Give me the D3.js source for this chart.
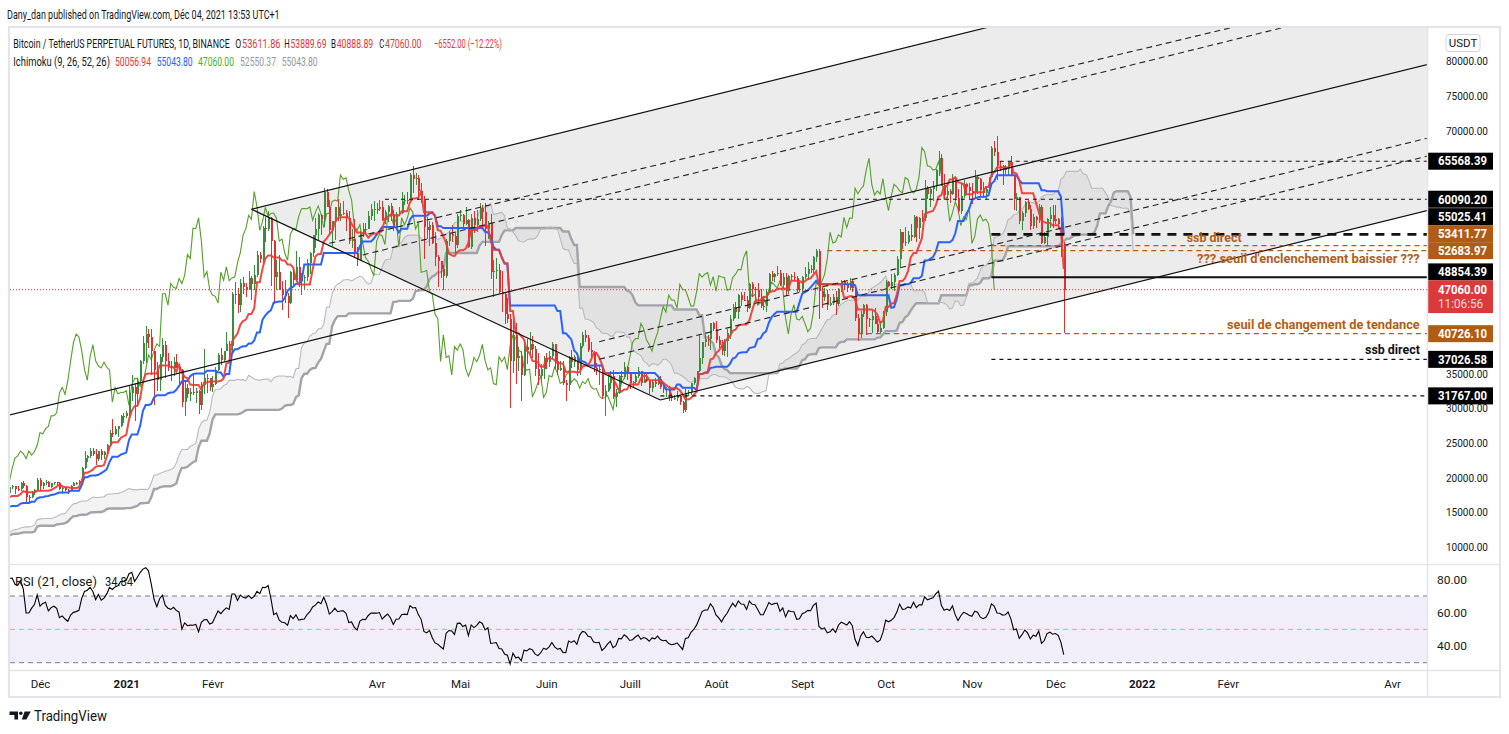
<!DOCTYPE html>
<html>
<head>
<meta charset="utf-8">
<title>BTCUSDT PERP 1D - Ichimoku</title>
<script src="https://cdn.jsdelivr.net/npm/d3@7"></script>
<style>
  body { margin: 0; background: #fff; }
  svg { display: block; font-family: Roboto, "Liberation Sans", sans-serif; }
</style>
</head>
<body>
<div id="chart"></div>
<script>
/*
Daily candles, BTCUSDT perpetual (Binance), one value per day from startDate.
Prices in thousands of USDT. Sept-Nov 2020 only warms up Ichimoku and RSI.
*/
const startDate = "2020-09-01";
const firstOpen = 11.65;

const closes = [
  // 2020-09
  11.92,11.39,10.17,10.47,10.17,10.25,10.37,10.13,10.22,10.34,10.39,10.44,10.33,10.68,10.79,10.95,10.94,10.93,11.08,10.92,10.42,10.53,10.24,10.74,10.69,10.73,10.78,10.70,10.84,10.78,
  // 2020-10
  10.62,10.57,10.55,10.67,10.79,10.60,10.67,10.92,11.06,11.30,11.38,11.54,11.43,11.43,11.50,11.33,11.37,11.51,11.75,11.92,12.82,12.97,12.93,13.12,13.03,13.07,13.65,13.28,13.46,13.56,13.80,
  // 2020-11
  13.76,13.55,14.03,14.16,15.59,15.59,14.83,15.48,15.33,15.31,15.70,16.28,16.32,16.07,15.96,16.72,17.66,17.80,17.82,18.68,18.72,18.42,18.37,19.16,18.72,17.15,17.14,17.72,18.18,19.70,
  // 2020-12
  18.77,19.22,19.42,18.65,19.15,19.36,19.17,18.32,18.55,18.25,18.03,18.80,19.17,19.27,19.44,21.35,22.80,23.11,23.82,23.46,22.72,23.82,23.25,23.71,24.69,26.49,26.28,27.04,27.36,28.89,28.92,
  // 2021-01
  29.33,32.18,33.00,31.99,33.95,36.77,39.39,40.67,40.24,38.24,35.54,34.01,37.37,39.15,36.82,36.07,35.80,36.63,35.89,35.47,30.85,32.95,32.08,32.26,32.25,32.51,30.40,33.40,34.27,34.32,33.11,
  // 2021-02
  33.52,35.51,37.67,36.98,38.29,39.26,38.90,46.45,46.51,44.84,47.97,47.41,47.23,48.69,47.94,49.13,52.12,51.55,55.91,55.84,57.41,54.09,48.89,49.68,47.06,46.28,46.10,45.14,
  // 2021-03
  49.59,48.44,50.35,48.37,48.75,48.88,50.97,52.38,54.88,55.86,57.77,57.22,61.19,59.00,55.60,56.90,58.91,57.65,58.03,58.10,57.35,54.08,54.34,52.30,51.30,55.05,55.85,55.78,57.63,58.73,58.74,
  // 2021-04
  58.72,58.98,57.07,58.20,59.13,57.99,56.00,57.97,58.09,59.77,59.96,59.84,63.58,62.96,63.16,61.33,60.01,56.15,55.63,56.43,53.79,51.70,51.15,50.05,49.06,54.02,55.03,54.83,53.56,57.70,
  // 2021-05
  57.80,56.58,57.17,53.20,57.44,56.39,57.31,58.84,58.24,55.82,56.67,49.58,49.69,49.84,46.76,46.43,43.54,42.88,36.73,40.57,37.29,37.53,34.77,38.85,38.35,39.24,38.48,35.68,34.61,35.67,37.29,
  // 2021-06
  36.69,37.57,39.19,36.84,35.52,35.80,33.55,33.38,37.39,36.69,37.34,35.55,39.02,40.52,40.15,38.35,38.09,35.82,35.48,35.60,31.68,32.51,33.68,34.66,31.57,32.25,34.69,34.49,35.91,35.04,
  // 2021-07
  33.57,33.80,34.67,35.29,33.69,34.22,33.86,32.88,33.82,33.52,34.26,33.09,32.73,32.82,31.78,31.39,31.53,31.80,30.84,29.79,32.14,32.29,33.58,34.29,35.38,37.27,39.46,40.03,40.02,42.21,41.46,
  // 2021-08
  39.85,39.15,38.21,39.74,40.87,42.83,44.61,43.83,46.29,45.59,45.55,44.43,47.83,47.09,47.02,45.94,44.69,44.72,46.76,49.34,48.87,49.29,49.51,47.70,48.95,46.84,49.07,48.90,48.81,46.99,47.13,
  // 2021-09
  48.83,49.25,49.99,49.92,51.76,52.66,46.86,46.06,46.40,44.85,45.17,46.03,44.96,47.11,48.13,47.75,47.30,48.31,47.26,42.99,40.70,43.56,44.89,42.84,42.70,43.21,42.17,41.03,41.52,43.82,
  // 2021-10
  48.14,47.64,48.20,49.23,51.49,55.34,53.80,53.97,54.96,54.66,57.47,56.01,57.37,57.35,61.67,60.88,61.53,62.01,64.28,66.00,62.21,60.69,61.29,60.85,63.08,60.33,58.45,60.59,62.25,61.88,61.30,
  // 2021-11
  61.00,63.23,62.94,61.45,61.00,61.53,63.30,67.54,66.94,64.88,64.81,64.28,64.41,65.50,63.62,60.11,60.37,56.90,58.12,59.73,58.69,56.28,57.57,57.16,58.96,53.73,54.72,57.27,57.81,56.97,
  // 2021-12
  57.23,56.51,53.61186,47.06
];

const highs = [
  12.1,12.1,11.5,10.6,10.6,10.4,10.4,10.4,10.4,10.5,10.4,10.5,10.5,10.8,10.9,11.1,11.1,11.0,11.2,11.1,11.0,10.6,10.6,10.8,10.8,10.8,10.8,11.0,10.9,10.9,
  10.9,10.7,10.6,10.7,10.8,10.8,10.7,10.9,11.1,11.5,11.4,11.7,11.6,11.5,11.6,11.5,11.4,11.5,11.8,12.0,13.2,13.2,13.0,13.2,13.4,13.2,13.8,13.9,13.6,13.7,14.1,
  13.9,13.8,14.1,14.3,15.8,16.0,15.8,15.7,15.8,15.5,15.9,16.4,16.5,16.3,16.2,16.9,17.8,18.5,18.1,18.8,18.9,18.8,18.8,19.4,19.5,19.0,17.5,18.0,18.3,19.9,
  19.9,19.3,19.6,19.5,19.2,19.4,19.4,19.3,18.6,18.6,18.3,18.9,19.4,19.4,19.6,21.5,23.8,23.3,24.2,24.3,24.1,23.8,24.1,23.8,24.8,26.9,28.4,27.5,27.4,29.0,29.3,
  29.6,33.3,34.8,33.6,34.4,36.9,40.4,41.9,41.4,41.4,38.3,36.6,37.8,40.1,39.7,37.9,36.8,37.3,37.8,36.4,35.6,33.8,33.5,32.9,34.9,32.9,32.6,33.8,38.5,34.9,34.3,
  34.7,35.9,37.9,38.7,38.3,40.9,39.7,46.8,48.1,47.3,48.6,48.9,48.0,49.7,49.0,50.6,52.6,52.5,56.3,57.5,58.4,57.5,54.2,51.4,52.0,48.3,48.4,46.6,
  49.8,50.2,52.6,51.8,49.5,49.2,51.5,52.5,54.9,57.4,58.1,58.0,61.7,61.6,60.0,56.9,59.0,60.1,59.5,59.9,58.6,58.4,55.8,57.2,53.2,55.5,56.6,56.6,58.4,59.4,59.8,
  59.5,60.0,59.8,58.5,59.3,59.5,58.6,58.2,58.9,61.2,60.7,61.2,63.8,64.9,63.8,63.6,62.5,60.5,57.5,57.0,56.8,55.4,52.1,51.2,50.6,54.4,55.5,56.4,55.2,58.0,
  58.5,57.9,58.9,57.2,58.0,58.4,58.6,59.5,59.3,59.6,57.0,58.0,51.3,51.6,50.7,49.8,46.6,45.8,43.6,42.5,42.2,38.8,38.3,39.8,39.9,40.9,40.4,38.9,37.9,36.4,37.5,
  37.9,38.2,39.5,39.3,37.9,36.8,36.8,34.1,37.5,38.4,37.7,37.4,39.4,41.0,41.3,40.5,39.5,38.2,36.5,36.0,35.8,33.3,34.9,35.3,35.5,32.7,34.8,35.3,36.6,36.0,
  35.1,33.9,34.9,35.9,35.3,35.1,35.0,33.9,34.1,34.3,34.6,34.6,33.3,33.1,33.2,32.2,31.9,32.4,31.9,31.0,32.8,32.6,33.6,34.5,35.4,40.5,39.5,40.9,40.6,42.3,42.4,
  42.6,40.4,39.8,39.9,41.4,43.4,45.0,45.3,46.5,46.7,46.8,46.2,48.0,48.2,47.4,48.0,47.2,46.0,47.1,49.4,49.8,49.5,50.5,49.9,49.4,49.4,49.2,49.3,49.6,49.0,48.2,
  49.0,50.4,51.0,50.6,51.9,52.9,52.9,47.4,47.3,47.0,46.0,46.4,46.9,47.3,48.5,48.5,48.2,48.8,48.4,47.3,43.6,44.0,45.0,45.0,43.0,44.0,44.4,42.8,42.6,44.0,
  48.5,48.3,49.3,49.5,51.9,55.8,55.3,56.1,55.5,56.5,57.8,57.7,57.6,58.5,62.9,62.0,61.7,62.7,64.5,67.0,66.6,63.7,61.8,61.5,63.7,63.3,61.5,62.5,62.9,62.4,62.4,
  62.4,64.3,63.5,63.1,62.6,61.8,63.3,67.8,68.5,69.1987,65.6,65.0,65.0,65.5,66.3,63.6,61.0,60.1,58.4,59.8,60.0,59.2,57.9,57.7,59.4,59.2,55.3,57.4,58.9,59.2,
  59.2,57.4,57.6,53.88969
];

const lows = [
  11.5,11.2,10.0,10.0,9.9,10.0,10.0,9.9,10.1,10.2,10.2,10.4,10.2,10.3,10.6,10.7,10.8,10.8,10.9,10.8,10.4,10.3,10.1,10.2,10.6,10.7,10.7,10.7,10.6,10.7,
  10.5,10.4,10.5,10.5,10.6,10.5,10.6,10.6,10.8,11.1,11.3,11.2,11.3,11.3,11.2,11.2,11.3,11.3,11.4,11.7,11.9,12.7,12.7,12.8,12.9,12.8,13.0,12.9,13.0,13.1,13.5,
  13.5,13.2,13.5,13.5,14.1,15.2,14.4,14.7,14.8,15.1,15.2,15.5,15.9,15.8,15.8,15.8,16.6,17.2,17.3,17.7,18.3,17.7,18.0,18.0,18.5,16.3,16.5,17.0,17.5,18.2,
  18.1,18.3,18.9,18.6,18.5,18.9,18.9,18.2,17.6,18.0,17.6,18.0,18.8,19.0,19.0,19.3,21.2,22.3,22.8,23.1,21.8,22.4,22.6,22.7,23.4,24.5,25.8,26.1,25.9,27.3,27.9,
  28.6,28.9,31.1,28.1,30.4,33.4,36.3,36.5,38.7,34.8,30.4,32.5,32.4,36.7,34.4,35.4,33.9,34.7,35.8,33.4,30.1,28.9,31.4,31.0,31.9,30.8,29.2,29.8,32.0,32.2,32.4,
  32.3,33.4,35.4,36.2,36.6,38.2,37.4,38.1,45.0,43.7,43.9,46.4,46.0,47.0,45.6,47.0,48.9,50.9,50.8,54.0,55.5,47.6,45.0,47.0,47.0,44.1,45.1,43.0,
  45.0,47.8,48.1,47.5,46.3,47.1,48.3,49.3,51.8,53.0,54.2,55.0,56.1,59.0,55.0,53.3,54.2,56.9,57.0,57.8,55.5,53.7,53.0,51.7,50.5,51.2,54.6,55.0,55.8,57.1,57.0,
  57.9,58.4,57.0,56.5,56.8,57.0,55.5,55.7,57.7,58.0,59.2,59.4,59.8,61.0,62.1,60.0,59.6,51.5,54.3,53.4,53.6,50.5,47.5,48.8,47.0,48.8,53.3,53.9,52.4,53.1,
  56.9,56.0,56.4,53.0,52.9,55.2,55.4,56.9,56.2,53.4,54.4,48.6,46.0,48.6,46.6,43.8,42.1,42.2,30.0,35.0,33.5,35.3,31.0,34.6,36.4,37.7,37.2,34.7,33.4,33.6,34.2,
  35.7,35.9,37.2,35.6,34.8,35.3,33.3,31.0,32.4,35.8,35.9,34.6,34.8,38.7,39.5,38.1,37.4,35.2,34.8,33.3,31.3,28.8,32.3,32.7,31.3,30.2,32.0,33.8,34.2,34.0,
  32.7,33.0,33.4,34.4,33.2,33.6,33.7,32.1,32.3,33.0,33.3,32.7,32.2,31.6,31.1,31.1,31.2,31.1,30.5,29.3,29.5,31.7,31.9,33.3,33.9,35.2,36.4,38.8,38.9,38.4,41.1,
  39.4,38.7,37.6,37.5,37.3,39.9,42.5,43.0,42.9,44.7,45.4,43.8,44.3,46.0,45.5,45.0,44.4,44.2,43.9,46.6,48.3,48.1,49.0,47.6,47.2,46.2,46.4,48.4,48.3,46.8,46.7,
  46.5,48.6,48.4,49.4,49.5,51.0,42.8,44.4,45.5,44.2,44.7,44.8,43.4,44.7,46.7,47.0,46.7,47.0,46.8,42.5,39.6,40.1,43.1,40.6,41.7,40.8,42.1,40.8,40.8,41.4,
  43.3,47.4,47.1,46.9,49.0,50.4,52.9,53.4,53.7,54.1,54.5,53.9,54.4,56.8,56.9,60.1,58.9,59.9,61.3,63.5,62.0,60.0,60.3,59.5,60.7,59.8,58.1,57.9,60.2,60.7,60.1,
  59.4,60.1,60.8,60.6,60.2,60.1,61.4,63.3,66.3,62.8,64.1,62.2,63.7,63.6,63.4,58.6,58.4,56.5,55.6,57.5,58.5,55.6,55.8,55.9,56.7,53.6,53.6,53.3,55.9,55.9,
  56.5,55.8,51.7,40.88889
];

// Legend values as shown in the header
const legendOHLC = [53611.86, 53889.69, 40888.89, 47060.00];
const legendChange = [-6552.00, -12.22];
const ichimokuLegend = [50056.94, 55043.80, 47060.00, 52550.37, 55043.80];
const rsiLegend = 34.84;
const countdown = "11:06:56";

// Axes
const timeTicks = ["2020-12-01", "2021-01-01", "2021-02-01", "2021-04-01", "2021-05-01", "2021-06-01", "2021-07-01",
  "2021-08-01", "2021-09-01", "2021-10-01", "2021-11-01", "2021-12-01", "2022-01-01", "2022-02-01", "2022-04-01"];
const timeLabels = ["Déc", "2021", "Févr", "Avr", "Mai", "Juin", "Juill", "Août", "Sept", "Oct", "Nov", "Déc", "2022", "Févr", "Avr"];
const priceTicks = [10000, 15000, 20000, 25000, 30000, 35000, 40000, 45000, 50000, 55000, 60000, 65000, 70000, 75000, 80000];
const rsiTicks = [40, 60, 80];

// Drawings: pitchfork anchors (handle, upper, lower) as [date, price]
const pitchfork = [["2020-11-20", 29010], ["2021-02-15", 58640], ["2021-07-12", 31170]];
// Dashed trend rays: [date1, price1, date2, price2]
const trendRays = [
  ["2021-03-15", 53740, "2021-11-08", 76540],
  ["2021-03-27", 52060, "2021-11-05", 74140],
  ["2021-06-20", 39570, "2022-04-11", 68620],
  ["2021-06-20", 37030, "2022-04-11", 66030]
];
// Horizontal rays
const levelPrices = [65568.39, 60090.20, 55025.41, 53411.77, 52683.97, 48854.39, 40726.10, 37026.58, 31767.00];
const levelStarts = ["2021-11-11", "2021-04-04", "2021-11-08", "2021-11-08", "2021-09-10", "2021-11-08", "2021-09-21", "2021-11-08", "2021-07-12"];
const levelKinds = ["dash", "dash", "ssb", "orange", "orange", "solid", "orange", "dash", "dash"];
const levelTexts = ["", "", "ssb direct", "", "??? seuil d'enclenchement baissier ???", "", "seuil de changement de tendance", "ssb direct", ""];


/*
Geometry and scales.
*/
const W = 1509, H = 734;
const pane = { left: 10, right: 1427, top: 28, bottom: 563 };
const rsiPane = { top: 565, bottom: 669 };
const DAY = 864e5;
const D = s => new Date(s + "T00:00:00Z");
const fmt = d3.format(".2f");
const INK = "#131722";
const ORANGE = "#b35e14";

const x = d3.scaleUtc().domain([D("2020-12-01"), D("2022-04-01")]).range([40, 1392]);
const y = d3.scaleLinear().domain([10000, 80000]).range([547, 61]);
const yr = d3.scaleLinear().domain([30, 70]).range([662.7, 596]);

const t0 = D(startDate).getTime();
const dateAt = i => new Date(t0 + i * DAY);

const bars = closes.map((c, i) => {
  const o = (i ? closes[i - 1] : firstOpen) * 1000;
  const cl = c * 1000;
  return {
    date: dateAt(i), o, c: cl,
    h: Math.max(highs[i] * 1000, o, cl),
    l: Math.min(lows[i] * 1000, o, cl)
  };
});


/*
Ichimoku (9, 26, 52, 26) and RSI (21).
*/
function donchian(len) {
  return bars.map((b, i) => {
    if (i < len - 1) return null;
    const win = bars.slice(i - len + 1, i + 1);
    return (d3.max(win, d => d.h) + d3.min(win, d => d.l)) / 2;
  });
}
const tenkan = donchian(9);
const kijun = donchian(26);
const spanB = donchian(52);
const spanA = tenkan.map((t, i) => (t != null && kijun[i] != null) ? (t + kijun[i]) / 2 : null);
const shift = 25;

function rsi(values, len) {
  const out = values.map(() => null);
  let up = 0, dn = 0;
  for (let i = 1; i < values.length; i++) {
    const ch = values[i] - values[i - 1];
    const u = Math.max(ch, 0), d = Math.max(-ch, 0);
    if (i <= len) {
      up += u / len; dn += d / len;
      if (i < len) continue;
    } else {
      up = (up * (len - 1) + u) / len;
      dn = (dn * (len - 1) + d) / len;
    }
    out[i] = dn === 0 ? 100 : 100 - 100 / (1 + up / dn);
  }
  return out;
}
const rsiValues = rsi(bars.map(b => b.c), 21);


/*
Container.
*/
const svg = d3.select("#chart").append("svg")
  .attr("width", W)
  .attr("height", H);

svg.append("rect").attr("width", W).attr("height", H).attr("fill", "#fff");

const defs = svg.append("defs");
defs.append("clipPath").attr("id", "clip-main").append("rect")
  .attr("x", pane.left).attr("y", pane.top)
  .attr("width", pane.right - pane.left).attr("height", pane.bottom - pane.top);
defs.append("clipPath").attr("id", "clip-rsi").append("rect")
  .attr("x", pane.left).attr("y", rsiPane.top)
  .attr("width", pane.right - pane.left).attr("height", rsiPane.bottom - rsiPane.top);

const main = svg.append("g").attr("clip-path", "url(#clip-main)");
const line = d3.line().defined(d => d.v != null).x(d => x(d.date)).y(d => y(d.v));

// Text squeezed horizontally into a given width (the original font is narrow).
function fit(g, x0, y0, s, len, color) {
  const t = g.append("text").attr("fill", color || INK).text(s);
  const w = t.node().getComputedTextLength() || len;
  t.attr("transform", `translate(${x0},${y0}) scale(${len / w},1)`);
  return t;
}


/*
Pitchfork fill (below everything else).
*/
const [pA, pB, pC] = pitchfork.map(([d, p]) => ({ t: D(d).getTime(), p }));
const pM = { t: (pB.t + pC.t) / 2, p: (pB.p + pC.p) / 2 };
const forkSlope = (pM.p - pA.p) / (pM.t - pA.t);
const tFar = D("2022-08-01").getTime();
const extend = (pt, s) => ({ t: tFar, p: pt.p + s * (tFar - pt.t) });
const P = pt => [x(new Date(pt.t)), y(pt.p)];

main.append("path")
  .attr("d", d3.line()([P(pB), P(extend(pB, forkSlope)), P(extend(pC, forkSlope)), P(pC)]) + "Z")
  .attr("fill", "#ececec");


/*
Ichimoku cloud and lines.
*/
const lead = bars.map((b, i) => ({ date: dateAt(i + shift), a: spanA[i], b: spanB[i] }))
  .filter(d => d.a != null && d.b != null);

main.append("path").datum(lead)
  .attr("d", d3.area().x(d => x(d.date)).y0(d => y(d.b)).y1(d => y(d.a)))
  .attr("fill", "rgba(120,123,134,0.09)");

main.append("path").datum(lead.map(d => ({ date: d.date, v: d.b })))
  .attr("d", line).attr("fill", "none").attr("stroke", "#a3a4aa").attr("stroke-width", 2.4);

main.append("path").datum(lead.map(d => ({ date: d.date, v: d.a })))
  .attr("d", line).attr("fill", "none").attr("stroke", "#b9babf").attr("stroke-width", 1.1);

main.append("path").datum(bars.map((b, i) => ({ date: dateAt(i - shift), v: b.c })))
  .attr("d", line).attr("fill", "none").attr("stroke", "#55a02a").attr("stroke-width", 1.1);


/*
Candles.
*/
const candles = main.append("g").attr("shape-rendering", "crispEdges");
const col = d => d.c >= d.o ? "#388e3c" : "#e0302f";

candles.selectAll("line").data(bars).join("line")
  .attr("x1", d => Math.round(x(d.date)) + 0.5)
  .attr("x2", d => Math.round(x(d.date)) + 0.5)
  .attr("y1", d => y(d.h))
  .attr("y2", d => y(d.l))
  .attr("stroke", col);

candles.selectAll("rect").data(bars).join("rect")
  .attr("x", d => Math.round(x(d.date)))
  .attr("width", 2)
  .attr("y", d => y(Math.max(d.o, d.c)))
  .attr("height", d => Math.max(1, Math.abs(y(d.o) - y(d.c))))
  .attr("fill", col);

main.append("path").datum(bars.map((b, i) => ({ date: b.date, v: kijun[i] })))
  .attr("d", line).attr("fill", "none").attr("stroke", "#2962ff").attr("stroke-width", 2);

main.append("path").datum(bars.map((b, i) => ({ date: b.date, v: tenkan[i] })))
  .attr("d", line).attr("fill", "none").attr("stroke", "rgba(240,56,50,0.92)").attr("stroke-width", 2);


/*
Drawings: pitchfork lines, dashed rays, horizontal levels.
*/
const draw = main.append("g").attr("fill", "none");
const seg = (a, b) => d3.line()([P(a), P(b)]);

draw.append("path").attr("d", seg(pA, extend(pA, forkSlope))).attr("stroke", "#111").attr("stroke-width", 1.2);
draw.append("path").attr("d", seg(pB, extend(pB, forkSlope))).attr("stroke", "#111").attr("stroke-width", 1.2);
draw.append("path").attr("d", seg(pC, extend(pC, forkSlope))).attr("stroke", "#111").attr("stroke-width", 1.2);
draw.append("path").attr("d", seg(pB, pC)).attr("stroke", "#111").attr("stroke-width", 1.2);

trendRays.forEach(([d1, p1, d2, p2]) => {
  const a = { t: D(d1).getTime(), p: p1 };
  const b = { t: D(d2).getTime(), p: p2 };
  const s = (b.p - a.p) / (b.t - a.t);
  draw.append("path").attr("d", seg(a, extend(a, s)))
    .attr("stroke", "#222").attr("stroke-width", 1.1).attr("stroke-dasharray", "6,4");
});

const levelStyle = {
  dash:   { stroke: "#111", width: 1.1, dash: "4,4" },
  ssb:    { stroke: "#111", width: 2.6, dash: "9,7" },
  orange: { stroke: ORANGE, width: 1.2, dash: "5,4" },
  solid:  { stroke: "#111", width: 2.2, dash: null }
};

levelPrices.forEach((p, i) => {
  const st = levelStyle[levelKinds[i]];
  const yy = y(p);
  draw.append("line")
    .attr("x1", x(D(levelStarts[i]))).attr("x2", pane.right)
    .attr("y1", yy).attr("y2", yy)
    .attr("stroke", st.stroke).attr("stroke-width", st.width)
    .attr("stroke-dasharray", st.dash);
});

// current price line
const last = bars[bars.length - 1];
main.append("line")
  .attr("x1", pane.left).attr("x2", pane.right)
  .attr("y1", y(last.c)).attr("y2", y(last.c))
  .attr("stroke", "#d32f2f").attr("stroke-width", 1).attr("stroke-dasharray", "1,2");

// level notes: placement and width of each
const textPlacement = { 2: ["center", 55], 4: ["below", 223], 6: ["above", 193], 7: ["above", 55] };
const notes = main.append("g").attr("font-size", 12.5).attr("font-weight", "bold");
levelTexts.forEach((s, i) => {
  if (!s) return;
  const yy = y(levelPrices[i]);
  const [pos, len] = textPlacement[i];
  const colr = levelKinds[i] === "dash" ? "#111" : ORANGE;
  if (pos === "center") {
    fit(notes, (x(D(levelStarts[i])) + pane.right) / 2 + 5 - len / 2, yy + 7.5, s, len, colr);
  } else {
    fit(notes, pane.right - 7 - len, pos === "below" ? yy + 12.5 : yy - 5, s, len, colr);
  }
});


/*
RSI pane.
*/
const rsiG = svg.append("g").attr("clip-path", "url(#clip-rsi)");
rsiG.append("rect")
  .attr("x", pane.left).attr("width", pane.right - pane.left)
  .attr("y", yr(70)).attr("height", yr(30) - yr(70))
  .attr("fill", "rgba(126,87,194,0.1)");

[[70, "#787b86"], [50, "#e4a0a2"], [30, "#787b86"]].forEach(([v, c]) => {
  rsiG.append("line")
    .attr("x1", pane.left).attr("x2", pane.right)
    .attr("y1", yr(v)).attr("y2", yr(v))
    .attr("stroke", c).attr("stroke-dasharray", "5,4");
});

rsiG.append("path")
  .datum(bars.map((b, i) => ({ date: b.date, v: rsiValues[i] })))
  .attr("d", d3.line().defined(d => d.v != null).x(d => x(d.date)).y(d => yr(d.v)))
  .attr("fill", "none").attr("stroke", "#000").attr("stroke-width", 1.1);

const rsiText = svg.append("g").attr("font-size", 12.5);
fit(rsiText, 15, 585.5, "RSI (21, close)", 82);
fit(rsiText, 105, 585.5, fmt(rsiLegend), 28);


/*
Price labels on the axis, stacked around the live price label.
*/
const boxH = 17;
const liveY = y(last.c);
const live = { top: liveY - 9.3, bottom: liveY + 23.4 };
const labels = levelPrices.map((p, i) => ({
  text: fmt(p), ideal: y(p),
  fill: levelKinds[i] === "orange" ? "#b05c14" : "#000"
}));
let edge = live.top;
labels.filter(l => l.ideal < liveY).sort((a, b) => b.ideal - a.ideal).forEach(l => {
  l.cy = Math.min(l.ideal, edge - boxH / 2);
  edge = l.cy - boxH / 2;
});
edge = live.bottom;
labels.filter(l => l.ideal >= liveY).sort((a, b) => a.ideal - b.ideal).forEach(l => {
  l.cy = Math.max(l.ideal, edge + boxH / 2);
  edge = l.cy + boxH / 2;
});
const boxes = labels.map(l => [l.cy - boxH / 2, l.cy + boxH / 2]).concat([[live.top, live.bottom]]);
const hidden = v => boxes.some(([a, b]) => y(v) > a - 3 && y(v) < b + 3);


/*
Axes.
*/
function styleAxis(g) {
  g.attr("font-family", null).attr("font-size", null);
  g.select(".domain").remove();
  g.selectAll("text").attr("fill", INK).attr("font-size", 11.5);
}

svg.append("g")
  .attr("transform", "translate(1443,0)")
  .call(d3.axisRight(y).tickValues(priceTicks.filter(v => !hidden(v))).tickFormat(fmt).tickSize(0).tickPadding(3))
  .call(styleAxis)
  .call(g => g.selectAll("text").attr("textLength", 42).attr("lengthAdjust", "spacingAndGlyphs"));

svg.append("g")
  .attr("transform", "translate(1434,0)")
  .call(d3.axisRight(yr).tickValues(rsiTicks).tickFormat(fmt).tickSize(0).tickPadding(3))
  .call(styleAxis)
  .call(g => g.selectAll("text").attr("textLength", 30).attr("lengthAdjust", "spacingAndGlyphs"));

svg.append("g")
  .attr("transform", "translate(0,680)")
  .call(d3.axisBottom(x).tickValues(timeTicks.map(D)).tickFormat((d, i) => timeLabels[i]).tickSize(0).tickPadding(0))
  .call(styleAxis)
  .call(g => g.selectAll("text").attr("font-weight", (d, i) => /^\d{4}$/.test(timeLabels[i]) ? "bold" : null));

const lab = svg.append("g").attr("font-size", 12).attr("font-weight", "bold");
labels.forEach(l => {
  lab.append("rect").attr("x", 1428).attr("width", 65)
    .attr("y", l.cy - boxH / 2).attr("height", boxH).attr("fill", l.fill);
  fit(lab, 1438, l.cy + 4.3, l.text, 49, "#fff");
});
lab.append("rect").attr("x", 1428).attr("width", 65)
  .attr("y", live.top).attr("height", live.bottom - live.top).attr("fill", "#db3a3a");
fit(lab, 1438, liveY + 4.3, fmt(last.c), 49, "#fff");
fit(lab, 1438, liveY + 18.3, countdown, 47, "rgba(255,255,255,0.82)").attr("font-weight", "normal");

// currency badge
svg.append("rect").attr("x", 1446).attr("y", 34.5).attr("width", 34).attr("height", 17).attr("rx", 3)
  .attr("fill", "#fff").attr("stroke", "#d1d4dc");
svg.append("text").attr("x", 1463).attr("y", 47).attr("text-anchor", "middle")
  .attr("font-size", 11.5).attr("fill", INK).text("USDT");


/*
Frame and pane separators.
*/
const frame = svg.append("g").attr("stroke", "#e3e5eb").attr("fill", "none");
frame.append("line").attr("x1", 9).attr("x2", 1500).attr("y1", 564.5).attr("y2", 564.5).attr("stroke-width", 1.5);
frame.append("line").attr("x1", 9).attr("x2", 1500).attr("y1", 670.5).attr("y2", 670.5).attr("stroke-width", 1.5);
frame.append("line").attr("x1", 1427.5).attr("x2", 1427.5).attr("y1", 27).attr("y2", 697).attr("stroke-width", 1.5);
frame.append("rect").attr("x", 9).attr("y", 27).attr("width", 1491).attr("height", 670).attr("stroke-width", 2.2);


/*
Header, legends, logo.
*/
const head = svg.append("g").attr("font-size", 13);
fit(head, 7, 19, "Dany_dan published on TradingView.com, Déc 04, 2021 13:53 UTC+1", 273);
fit(head, 13.3, 48, "Bitcoin / TetherUS PERPETUAL FUTURES, 1D, BINANCE", 216.7);

const RED = "#e53935";
// [key, key x, key width, value x, value width]
[["O", 235.3, 6, 242, 38.5], ["H", 284.3, 5.5, 290.5, 36], ["B", 331, 5, 336.7, 36.5], ["C", 379.3, 5, 385, 36.5]]
  .forEach(([k, kx, kw, vx, vw], i) => {
    fit(head, kx, 48, k, kw);
    fit(head, vx, 48, fmt(legendOHLC[i]), vw, RED);
  });
fit(head, 434, 48, `\u2212${fmt(-legendChange[0])} (\u2212${fmt(-legendChange[1])}%)`, 68, RED);

fit(head, 13.3, 65.7, "Ichimoku (9, 26, 52, 26)", 96.7);
const ichiColors = [RED, "#2962ff", "#4caf28", "#9598a1", "#9598a1"];
[115, 156.7, 198, 240, 281.7].forEach((x0, i) => fit(head, x0, 65.7, fmt(ichimokuLegend[i]), 36, ichiColors[i]));

const logo = svg.append("g").attr("fill", INK);
logo.append("path").attr("d", "M9.5,711.5 h8.5 v8 h-3.6 v-4.4 h-4.9 z");
logo.append("circle").attr("cx", 20.8).attr("cy", 713.3).attr("r", 1.8);
logo.append("path").attr("d", "M24.6,711.5 h6.2 l-4.4,8 h-4.6 z");
fit(svg.append("g").attr("font-size", 14), 34, 721, "TradingView", 73);
</script>
</body>
</html>
